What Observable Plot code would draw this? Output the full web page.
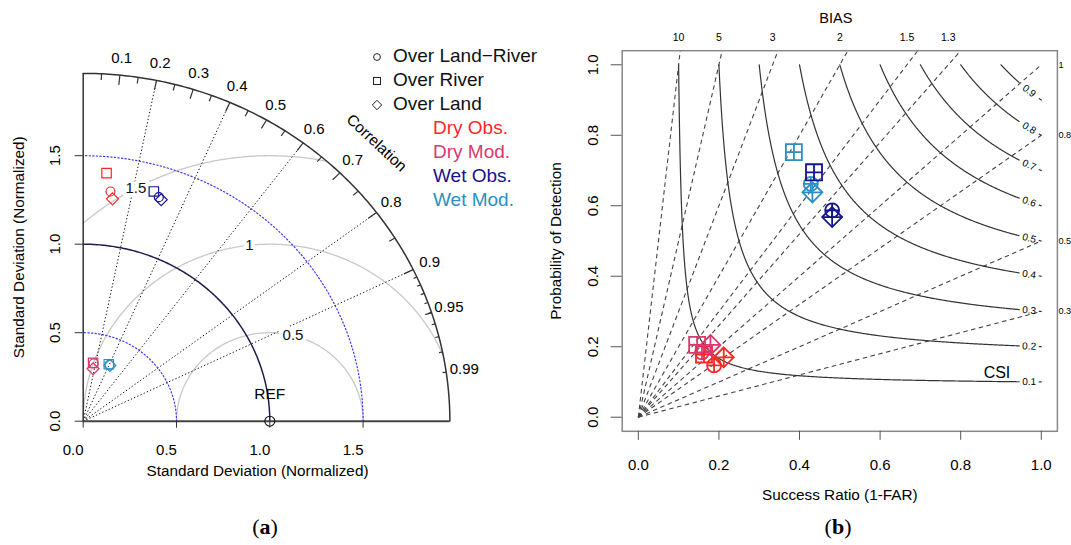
<!DOCTYPE html>
<html><head><meta charset="utf-8">
<script src="https://cdn.jsdelivr.net/npm/d3@7"></script>
<script src="https://cdn.jsdelivr.net/npm/@observablehq/plot@0.6"></script>
<style>
html,body{margin:0;padding:0;background:#fff;}
#wrap{position:relative;width:1071px;height:545px;overflow:hidden;font-family:"Liberation Sans",Arial,Helvetica,sans-serif;}
#pa{position:absolute;left:0;top:0;}
#pb{position:absolute;left:545px;top:0;}
#legend{position:absolute;left:0;top:0;width:0;height:0;}
.lg{position:absolute;white-space:nowrap;font-size:19px;line-height:19px;}
.sym{position:absolute;}
.cap{position:absolute;top:516px;font-family:"Liberation Serif","DejaVu Serif",serif;font-size:22px;line-height:22px;transform:translateX(-50%);}
</style></head><body>
<div id="wrap"><div id="pa"></div><div id="pb"></div><div id="legend"></div>
<div class="cap" style="left:265px">(<b>a</b>)</div>
<div class="cap" style="left:838px">(<b>b</b>)</div>
</div>
<script>
const FONT = '"Liberation Sans", Arial, Helvetica, sans-serif';

// ---------------- data ----------------
const groups = ["Dry Obs.", "Dry Mod.", "Wet Obs.", "Wet Mod."];
const groupColors = ["#ff2626", "#d8396f", "#14148f", "#2b8fc6"];
const shapeLabels = ["Over Land\u2212River", "Over River", "Over Land"];
const shapeKeys = ["circle", "square", "diamond"];

const pointGroup = ["Dry Obs.","Dry Obs.","Dry Obs.","Dry Mod.","Dry Mod.","Dry Mod.",
                    "Wet Obs.","Wet Obs.","Wet Obs.","Wet Mod.","Wet Mod.","Wet Mod."];
const pointShape = ["circle","square","diamond","circle","square","diamond",
                    "circle","square","diamond","circle","square","diamond"];
// Taylor diagram: normalized standard deviation and correlation
const taylorSD  = [1.306, 1.407, 1.266, 0.331, 0.334, 0.301, 1.329, 1.352, 1.319, 0.349, 0.350, 0.346];
const taylorCor = [0.112, 0.089, 0.124, 0.169, 0.159, 0.176, 0.305, 0.280, 0.317, 0.404, 0.392, 0.413];
// Performance diagram: success ratio and probability of detection
const perfSR  = [0.188, 0.163, 0.212, 0.158, 0.146, 0.179, 0.481, 0.436, 0.481, 0.428, 0.386, 0.432];
const perfPOD = [0.147, 0.178, 0.170, 0.184, 0.205, 0.205, 0.587, 0.695, 0.568, 0.662, 0.752, 0.638];

// Taylor diagram furniture
const maxSD = 1.965;
const refSD = 1;
const sdTicks = [0, 0.5, 1, 1.5];
const sdArcs = [0.5, 1.5];
const rmsLevels = [0.5, 1, 1.5];
const corrLines = [0.2, 0.4, 0.6, 0.8, 0.9];
const corrLabels = [0.1, 0.2, 0.3, 0.4, 0.5, 0.6, 0.7, 0.8, 0.9, 0.95, 0.99];
const corrMedTicks = [0.05, 0.15, 0.25, 0.35, 0.45, 0.55, 0.65, 0.75, 0.85, 0.95];
const corrSmallTicks = [0.91, 0.92, 0.93, 0.94, 0.95, 0.96, 0.97, 0.98, 0.99];

// Performance diagram furniture
const biasLevels = [0.3, 0.5, 0.8, 1, 1.3, 1.5, 2, 3, 5, 10];
const csiLevels = [0.1, 0.2, 0.3, 0.4, 0.5, 0.6, 0.7, 0.8, 0.9];
const perfTicks = [0, 0.2, 0.4, 0.6, 0.8, 1];

// ---------------- derived tables ----------------
const points = pointGroup.map((g, i) => ({
  group: g, shape: pointShape[i],
  x: taylorSD[i] * taylorCor[i],
  y: taylorSD[i] * Math.sqrt(1 - taylorCor[i] * taylorCor[i]),
  sr: perfSR[i], pod: perfPOD[i]
}));

const arcPts = r => d3.range(0, 181).map(i => {
  const a = i * Math.PI / 360; return {r, x: r * Math.cos(a), y: r * Math.sin(a)};
});
const rmsPts = rmsLevels.flatMap(g => d3.range(0, 629).map(i => i * 0.005)
  .map(a => ({g, x: 1 + g * Math.cos(a), y: g * Math.sin(a)}))
  .filter(p => p.x >= -1e-9 && Math.hypot(p.x, p.y) <= maxSD));
const rmsLabelAngle = [1.32, 1.68, 2.07];
const rmsLabels = rmsLevels.map((g, i) => ({g, x: 1 + g * Math.cos(rmsLabelAngle[i]), y: g * Math.sin(rmsLabelAngle[i])}));

const tickSeg = (vals, f) => vals.map(c => ({c, f}));
const corrTicks = [...tickSeg(corrLabels.slice(0, 9), 0.972), ...tickSeg(corrMedTicks, 0.982), ...tickSeg(corrSmallTicks, 0.99)];

const podOf = (c, sr) => 1 / (1 / c + 1 - 1 / sr);
const csiPts = csiLevels.flatMap(c => {
  const seg = (a, b, key) => {
    const srs = d3.range(0, 301).map(i => a + (b - a) * i / 300);
    const fromPod = d3.range(0, 301).map(i => c + (1 - c) * i / 300).map(p => podOf(c, p)).filter(s => s >= a && s <= b);
    return [...srs, ...fromPod].sort((u, v) => u - v).map(s => ({key, sr: s, pod: podOf(c, s)}));
  };
  return [...seg(c, 0.945, c + "a"), ...seg(0.995, 1, c + "b")];
});
const csiLabelSR = 0.97;

// ---------------- Taylor diagram ----------------
const kxA = 186.6, kyA = 177;
const TW = 545, TH = 500;
const taylorSym = {circle: "circle", square: "square2", diamond: "diamond2"};
const taylorR = {circle: 4.5, square: 6, diamond: 5.4};

const taylor = Plot.plot({
  width: TW, height: TH,
  marginLeft: 82.7, marginRight: TW - 82.7 - kxA * maxSD,
  marginTop: 420.7 - kyA * maxSD, marginBottom: TH - 420.7,
  x: {domain: [0, maxSD]}, y: {domain: [0, maxSD]},
  color: {domain: groups, range: groupColors},
  style: {fontFamily: FONT, fontSize: "15px", background: "white"},
  marks: [
    Plot.line(rmsPts, {x: "x", y: "y", z: "g", stroke: "#c9c9c9", strokeWidth: 1.3}),
    Plot.line(sdArcs.flatMap(arcPts), {x: "x", y: "y", z: "r", stroke: "#3b3bff", strokeWidth: 1.2, strokeDasharray: "1.3,2.3"}),
    Plot.link(corrLines, {x1: () => 0, y1: () => 0, x2: c => maxSD * c, y2: c => maxSD * Math.sqrt(1 - c * c), stroke: "#111", strokeWidth: 1, strokeDasharray: "1.3,2.2"}),
    Plot.line(arcPts(refSD), {x: "x", y: "y", stroke: "#1d1d4f", strokeWidth: 1.5}),
    Plot.line(arcPts(maxSD), {x: "x", y: "y", stroke: "#333", strokeWidth: 1.5}),
    Plot.link(corrTicks, {x1: d => d.f * maxSD * d.c, y1: d => d.f * maxSD * Math.sqrt(1 - d.c * d.c), x2: d => maxSD * d.c, y2: d => maxSD * Math.sqrt(1 - d.c * d.c), stroke: "#333", strokeWidth: 1.2}),
    Plot.ruleY([0], {x1: () => 0, x2: () => maxSD, stroke: "#444", strokeWidth: 2}),
    Plot.ruleX([0], {y1: () => 0, y2: () => maxSD, stroke: "#333", strokeWidth: 1.5}),
    Plot.axisX({ticks: sdTicks, tickSize: 7, tickFormat: () => "", label: null, stroke: "#333"}),
    Plot.axisY({ticks: sdTicks, tickSize: 8, tickFormat: () => "", label: null, stroke: "#333"}),
    Plot.text(sdTicks, {x: d => d, y: () => 0, dy: 29, dx: -10, text: d => d.toFixed(1), fontSize: 15}),
    Plot.text(sdTicks, {x: () => 0, y: d => d, dx: -28, rotate: -90, text: d => d.toFixed(1), fontSize: 15}),
    Plot.text(rmsLabels, {x: "x", y: "y", text: d => String(d.g), fontSize: 15, fill: "#111", stroke: "white", strokeWidth: 8}),
    Plot.text(corrLabels, {x: c => 1.05 * maxSD * c, y: c => 1.05 * maxSD * Math.sqrt(1 - c * c), text: c => String(c), fontSize: 15}),
    Plot.text([0.8], {x: v => v * maxSD, y: v => v * maxSD, text: () => "Correlation", rotate: 43, fontSize: 15.5}),
    Plot.dot([refSD], {x: d => d, y: () => 0, r: 5, stroke: "#111", fill: "none", strokeWidth: 1.1}),
    Plot.text([refSD], {x: d => d, y: () => 0, dy: -27, text: () => "REF", fontSize: 15.5}),
    Plot.text(["Standard Deviation (Normalized)"], {frameAnchor: "bottom", dy: 50, dx: -9, lineAnchor: "middle", textAnchor: "middle", fontSize: 15.3}),
    Plot.text(["Standard Deviation (Normalized)"], {frameAnchor: "left", dx: -64.4, rotate: -90, textAnchor: "middle", lineAnchor: "middle", fontSize: 15.3}),
    ...shapeKeys.map(s => Plot.dot(points.filter(p => p.shape === s), {
      x: "x", y: "y", stroke: "group", fill: "none", symbol: taylorSym[s], r: taylorR[s], strokeWidth: 1.2
    }))
  ]
});
document.getElementById("pa").appendChild(taylor);

// ---------------- Performance diagram ----------------
const PW = 526, PH = 505;
const pLeft = 76.7, pTop = 50.2, pBottom = PH - 430.8, pRight = PW - 511.9;
const kxB = (PW - pLeft - pRight) / 1.08, kyB = (PH - pTop - pBottom) / 1.08;
const perfSym = {circle: "circle", square: "square2", diamond: "diamond2"};
const perfR = {circle: 7, square: 10.2, diamond: 9};
const perfPlusR = {circle: 4.6, square: 5.2, diamond: 6.5};

const perf = Plot.plot({
  width: PW, height: PH,
  marginLeft: pLeft, marginRight: pRight, marginTop: pTop, marginBottom: pBottom,
  x: {domain: [-0.04, 1.04]}, y: {domain: [-0.04, 1.04]},
  color: {domain: groups, range: groupColors},
  style: {fontFamily: FONT, fontSize: "15px", background: "white"},
  marks: [
    Plot.link(biasLevels, {x1: () => 0, y1: () => 0, x2: b => b > 1 ? 1.04 / b : 1, y2: b => b > 1 ? 1.04 : b,
      stroke: "#444", strokeWidth: 1.1, strokeDasharray: "4.5,3.5"}),
    Plot.line(csiPts, {x: "sr", y: "pod", z: "key", stroke: "#333", strokeWidth: 1.2}),
    Plot.text(csiLevels, {x: () => csiLabelSR, y: c => podOf(c, csiLabelSR), text: c => String(c), fontSize: 10,
      rotate: c => Math.atan(Math.pow(podOf(c, csiLabelSR) / csiLabelSR, 2) * kyB / kxB) * 180 / Math.PI}),
    Plot.text(biasLevels.filter(b => b > 1), {x: b => 1 / b, y: () => 1.04, dy: -13, text: b => String(b), fontSize: 10.5}),
    Plot.text(biasLevels.filter(b => b <= 1), {x: () => 1.04, y: b => b, dx: 1, textAnchor: "start", text: b => String(b), fontSize: 9.2}),
    Plot.text(["BIAS"], {frameAnchor: "top", dy: -32, dx: -4, lineAnchor: "middle", fontSize: 14.5}),
    Plot.text(["CSI"], {x: () => 0.89, y: () => 0.127, fontSize: 16}),
    Plot.frame({stroke: "#888", strokeWidth: 1.5}),
    Plot.axisX({ticks: perfTicks, tickSize: 9, tickFormat: () => "", label: null, stroke: "#555"}),
    Plot.axisY({ticks: perfTicks, tickSize: 11, tickFormat: () => "", label: null, stroke: "#555"}),
    Plot.text(perfTicks, {x: d => d, y: () => -0.04, dy: 34, text: d => d.toFixed(1), fontSize: 15}),
    Plot.text(perfTicks, {x: () => -0.04, y: d => d, dx: -28.7, rotate: -90, text: d => d.toFixed(1), fontSize: 15}),
    Plot.text(["Probability of Detection"], {frameAnchor: "left", dx: -65.7, rotate: -90, textAnchor: "middle", lineAnchor: "middle", fontSize: 15.3}),
    Plot.text(["Success Ratio (1-FAR)"], {frameAnchor: "bottom", dy: 64, textAnchor: "middle", lineAnchor: "middle", fontSize: 15.3}),
    ...shapeKeys.flatMap(s => [
      Plot.dot(points.filter(p => p.shape === s), {x: "sr", y: "pod", stroke: "group", fill: "none", symbol: perfSym[s], r: perfR[s], strokeWidth: 1.8}),
      Plot.dot(points.filter(p => p.shape === s), {x: "sr", y: "pod", stroke: "group", fill: "none", symbol: "plus", r: perfPlusR[s], strokeWidth: 1.8})
    ])
  ]
});
document.getElementById("pb").appendChild(perf);

// ---------------- legend (panel a) ----------------
const leg = document.getElementById("legend");
const symSvg = {
  circle: '<circle cx="6" cy="6" r="3.4" fill="none" stroke="#222" stroke-width="1"/>',
  square: '<rect x="2.5" y="2.5" width="7" height="7" fill="none" stroke="#222" stroke-width="1"/>',
  diamond: '<polygon points="6,1.3 10.7,6 6,10.7 1.3,6" fill="none" stroke="#222" stroke-width="1"/>'
};
shapeLabels.forEach((lab, i) => {
  const cy = 55 + i * 24;
  const s = document.createElement("div");
  s.className = "sym"; s.style.left = "371px"; s.style.top = (cy - 6) + "px";
  s.innerHTML = '<svg width="12" height="12">' + symSvg[shapeKeys[i]] + '</svg>';
  leg.appendChild(s);
  const t = document.createElement("div");
  t.className = "lg"; t.style.left = "393px"; t.style.top = (cy - 9.5) + "px"; t.style.color = "#111";
  t.textContent = lab; leg.appendChild(t);
});
groups.forEach((g, i) => {
  const cy = 127 + i * 24;
  const t = document.createElement("div");
  t.className = "lg"; t.style.left = "433px"; t.style.top = (cy - 9.5) + "px"; t.style.color = groupColors[i];
  t.textContent = g; leg.appendChild(t);
});
</script>
</body></html>
